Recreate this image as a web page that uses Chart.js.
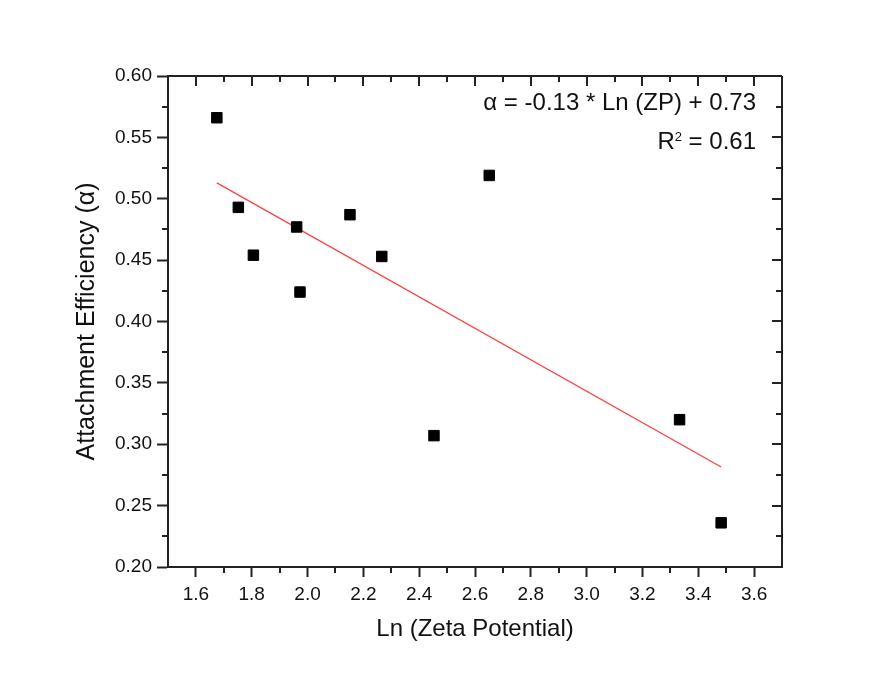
<!DOCTYPE html>
<html>
<head>
<meta charset="utf-8">
<script src="https://cdn.jsdelivr.net/npm/chart.js@4"></script>
<style>
  html, body { margin: 0; padding: 0; background: #fff; }
</style>
</head>
<body>
<canvas id="myChart" width="888" height="675"></canvas>
<script>
// measured samples
const lnZeta = [1.675, 1.752, 1.806, 1.961, 1.973, 2.152, 2.266, 2.453, 2.651, 3.333, 3.482];
const alphaVals = [0.566, 0.493, 0.454, 0.477, 0.424, 0.487, 0.453, 0.307, 0.519, 0.320, 0.236];

const xTicks = [1.6, 1.8, 2.0, 2.2, 2.4, 2.6, 2.8, 3.0, 3.2, 3.4, 3.6];
const yTicks = [0.20, 0.25, 0.30, 0.35, 0.40, 0.45, 0.50, 0.55, 0.60];

const eqText = 'α = -0.13 * Ln (ZP) + 0.73';
const r2Value = '0.61';

const FONT = "'Liberation Sans', Arial, sans-serif";
const AXIS = '#222';

// least squares line through the samples
const n = lnZeta.length;
const mx = lnZeta.reduce((a, b) => a + b, 0) / n;
const my = alphaVals.reduce((a, b) => a + b, 0) / n;
let sxy = 0, sxx = 0;
for (let i = 0; i < n; i++) {
  sxy += (lnZeta[i] - mx) * (alphaVals[i] - my);
  sxx += (lnZeta[i] - mx) ** 2;
}
const slope = sxy / sxx;
const intercept = my - slope * mx;
const xLo = Math.min(...lnZeta), xHi = Math.max(...lnZeta);
const fitLine = [
  { x: xLo, y: intercept + slope * xLo },
  { x: xHi, y: intercept + slope * xHi }
];

// box frame, minor ticks and the mirrored ticks on top/right
const frameTicks = {
  id: 'frameTicks',
  afterDraw(chart) {
    const { ctx, chartArea: a, scales: { x, y } } = chart;
    ctx.save();
    ctx.strokeStyle = AXIS;
    ctx.lineWidth = 2;
    ctx.beginPath();
    ctx.moveTo(a.left, a.top); ctx.lineTo(a.right, a.top);
    ctx.moveTo(a.right, a.top); ctx.lineTo(a.right, a.bottom);
    for (let i = 16; i <= 36; i++) {
      const px = Math.round(x.getPixelForValue(i / 10));
      const major = i % 2 === 0;
      ctx.moveTo(px, a.top); ctx.lineTo(px, a.top + (major ? 10 : 6));
      if (!major) { ctx.moveTo(px, a.bottom); ctx.lineTo(px, a.bottom + 6); }
    }
    for (let i = 9; i <= 23; i++) {
      const py = Math.round(y.getPixelForValue(i * 0.025));
      const major = i % 2 === 0;
      ctx.moveTo(a.right, py); ctx.lineTo(a.right - (major ? 10 : 6), py);
      if (!major) { ctx.moveTo(a.left, py); ctx.lineTo(a.left - 6, py); }
    }
    ctx.stroke();

    // fit equation
    const right = a.right - 26;
    ctx.fillStyle = '#111';
    ctx.textAlign = 'right';
    ctx.textBaseline = 'alphabetic';
    ctx.font = '24px ' + FONT;
    ctx.fillText(eqText, right, a.top + 34);

    const rest = ' = ' + r2Value;
    const wRest = ctx.measureText(rest).width;
    const wR = ctx.measureText('R').width;
    ctx.font = '13px ' + FONT;
    const wSup = ctx.measureText('2').width;
    const base = a.top + 73;
    ctx.textAlign = 'left';
    const x0 = right - wRest - wSup - wR;
    ctx.font = '24px ' + FONT;
    ctx.fillText('R', x0, base);
    ctx.fillText(rest, x0 + wR + wSup, base);
    ctx.font = '13px ' + FONT;
    ctx.fillText('2', x0 + wR, base - 8);
    ctx.restore();
  }
};

const ctx = document.getElementById('myChart').getContext('2d');
new Chart(ctx, {
  type: 'scatter',
  data: {
    datasets: [{
      label: 'samples',
      data: lnZeta.map((v, i) => ({ x: v, y: alphaVals[i] })),
      pointStyle: 'rect',
      pointRadius: 7.4,
      pointBackgroundColor: '#000',
      pointBorderColor: '#000',
      pointBorderWidth: 1,
      order: 1
    }, {
      type: 'line',
      label: 'fit',
      data: fitLine,
      borderColor: '#ff4242',
      borderWidth: 1.4,
      pointRadius: 0,
      fill: false,
      order: 2
    }]
  },
  options: {
    responsive: false,
    animation: false,
    layout: { padding: { left: 0, top: 76, right: 106, bottom: 0 } },
    plugins: {
      legend: { display: false },
      tooltip: { enabled: false }
    },
    scales: {
      x: {
        type: 'linear',
        min: 1.5,
        max: 3.7,
        afterBuildTicks: s => { s.ticks = xTicks.map(v => ({ value: v })); },
        afterFit: s => { s.height = 108; },
        ticks: {
          callback: v => v.toFixed(1),
          font: { family: FONT, size: 19 },
          color: '#111',
          padding: 6,
          maxRotation: 0
        },
        grid: {
          drawOnChartArea: false,
          drawTicks: true,
          tickLength: 10,
          tickWidth: 2,
          tickColor: AXIS
        },
        border: { display: true, color: AXIS, width: 2 },
        title: {
          display: true,
          text: 'Ln (Zeta Potential)',
          font: { family: FONT, size: 24 },
          color: '#111',
          padding: { top: 0, bottom: 31 }
        }
      },
      y: {
        type: 'linear',
        min: 0.2,
        max: 0.6,
        afterBuildTicks: s => { s.ticks = yTicks.map(v => ({ value: v })); },
        afterFit: s => { s.width = 168; },
        ticks: {
          callback: v => v.toFixed(2),
          font: { family: FONT, size: 19 },
          color: '#111',
          padding: 5
        },
        grid: {
          drawOnChartArea: false,
          drawTicks: true,
          tickLength: 11,
          tickWidth: 2,
          tickColor: AXIS
        },
        border: { display: true, color: AXIS, width: 2 },
        title: {
          display: true,
          text: 'Attachment Efficiency (α)',
          font: { family: FONT, size: 25 },
          color: '#111',
          padding: { top: 72, bottom: 0 }
        }
      }
    }
  },
  plugins: [frameTicks]
});
</script>
</body>
</html>
